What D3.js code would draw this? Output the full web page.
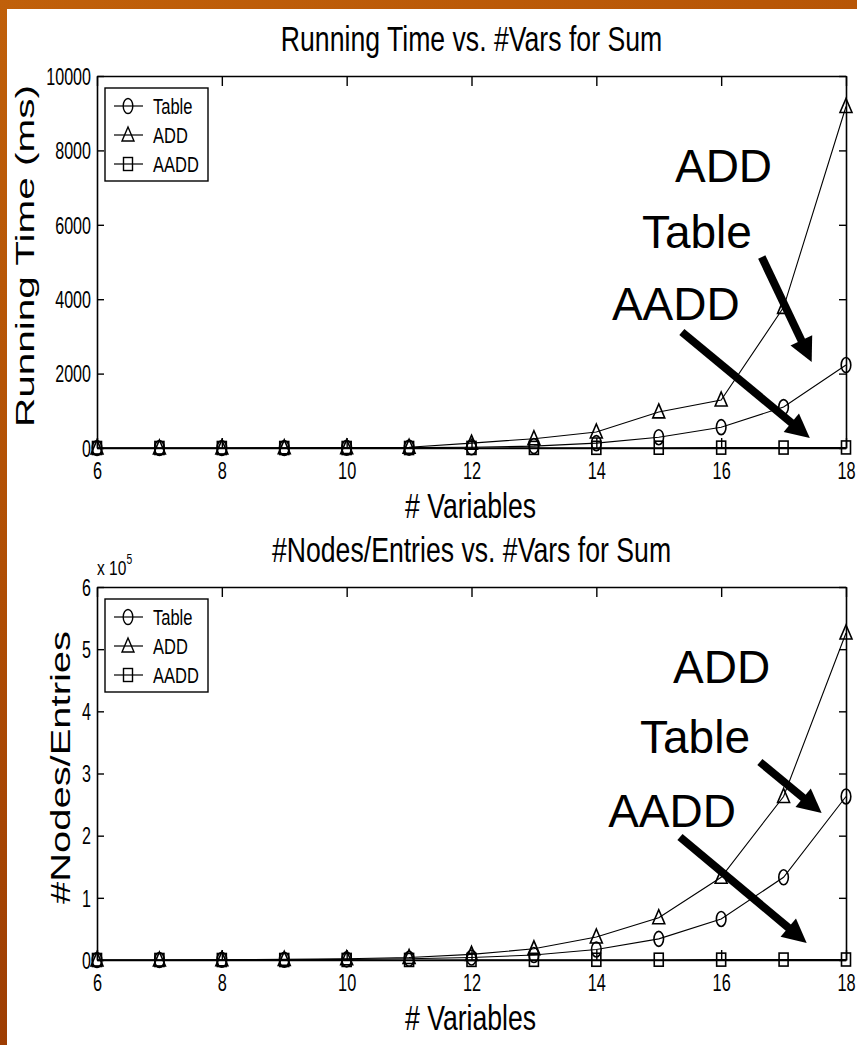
<!DOCTYPE html>
<html>
<head>
<meta charset="utf-8">
<script src="https://cdn.jsdelivr.net/npm/d3@7"></script>
<style>
  body { margin: 0; overflow: hidden; }
  text { font-family: "Liberation Sans", Arial, sans-serif; fill: #000; }
</style>
</head>
<body>
<div id="vizContainer"></div>
<script>
let w = 857;
let h = 1045;

let numVars = [6, 7, 8, 9, 10, 11, 12, 13, 14, 15, 16, 17, 18];
let xTicks = [6, 8, 10, 12, 14, 16, 18];
let seriesNames = ["Table", "ADD", "AADD"];

// running time (ms)
let tableTime = [0, 0, 0, 0, 5, 10, 20, 50, 130, 290, 560, 1100, 2230];
let addTime = [0, 0, 0, 5, 10, 20, 130, 250, 430, 970, 1290, 3780, 9180];
let aaddTime = [0, 0, 0, 0, 0, 0, 2, 3, 5, 8, 10, 12, 15];
let timeTicks = [0, 2000, 4000, 6000, 8000, 10000];

// nodes / entries
let tableNodes = [0, 0, 300, 500, 1000, 2000, 4000, 8000, 17000, 34000, 66000, 133000, 263000];
let addNodes = [0, 0, 500, 1000, 2000, 4000, 9000, 18000, 37000, 68000, 133000, 263000, 526000];
let aaddNodes = [0, 0, 0, 0, 100, 100, 200, 300, 400, 500, 600, 700, 800];
let nodeTicks = [0, 100000, 200000, 300000, 400000, 500000, 600000];

let panels = [
  {
    title: "Running Time vs. #Vars for Sum",
    yLabel: "Running Time (ms)",
    yLabelX: 34, yLabelLen: 342, yLabelSize: 26,
    top: 76, bottom: 448,
    yMax: 10000,
    ticks: timeTicks,
    fmt: d => d,
    series: [tableTime, addTime, aaddTime],
    notes: [
      { text: "ADD", pos: [15.26, 7150] },
      { text: "Table", pos: [14.73, 5376] },
      { text: "AADD", pos: [14.25, 3441] }
    ],
    arrows: [
      { from: [16.65, 5134], to: [17.45, 2312] },
      { from: [15.37, 3118], to: [17.42, 269] }
    ]
  },
  {
    title: "#Nodes/Entries vs. #Vars for Sum",
    yLabel: "#Nodes/Entries",
    yLabelX: 70, yLabelLen: 273, yLabelSize: 27,
    top: 587, bottom: 960,
    yMax: 600000,
    ticks: nodeTicks,
    fmt: d => d / 100000,
    series: [tableNodes, addNodes, aaddNodes],
    notes: [
      { text: "ADD", pos: [15.23, 445600] },
      { text: "Table", pos: [14.70, 333000] },
      { text: "AADD", pos: [14.19, 214000] }
    ],
    arrows: [
      { from: [16.62, 318500], to: [17.61, 236400] },
      { from: [15.34, 197800], to: [17.37, 27300] }
    ]
  }
];

let plotLeft = 97;
let plotRight = 846;

let viz = d3.select("#vizContainer")
  .append("svg")
  .attr("width", w)
  .attr("height", h)
  ;

// orange slide background with white picture on top
let grad = viz.append("defs").append("linearGradient")
  .attr("id", "bg")
  .attr("x1", 0).attr("y1", 0)
  .attr("x2", 0.3).attr("y2", 1)
  ;
grad.append("stop").attr("offset", 0).attr("stop-color", "#c0600a");
grad.append("stop").attr("offset", 0.5).attr("stop-color", "#b04e04");
grad.append("stop").attr("offset", 1).attr("stop-color", "#9a3a02");

viz.append("rect")
  .attr("width", w)
  .attr("height", h)
  .attr("fill", "url(#bg)")
  ;
viz.append("rect")
  .attr("x", 7)
  .attr("y", 9)
  .attr("width", w - 7)
  .attr("height", h - 9)
  .attr("fill", "white")
  ;

let xScale = d3.scaleLinear().domain([6, 18]).range([plotLeft, plotRight]);

function drawMarker(g, type, x, y) {
  if (type == 0) {
    g.append("ellipse")
      .attr("cx", x).attr("cy", y)
      .attr("rx", 4.8).attr("ry", 7.5)
      ;
  } else if (type == 1) {
    g.append("path")
      .attr("d", "M" + x + "," + (y - 8) + "L" + (x + 6) + "," + (y + 6) + "L" + (x - 6) + "," + (y + 6) + "Z")
      ;
  } else {
    g.append("rect")
      .attr("x", x - 4.5).attr("y", y - 6.5)
      .attr("width", 9).attr("height", 13)
      ;
  }
}

function drawArrow(g, x1, y1, x2, y2) {
  let dx = x2 - x1;
  let dy = y2 - y1;
  let len = Math.sqrt(dx * dx + dy * dy);
  let ux = dx / len;
  let uy = dy / len;
  let headL = 24;
  let headW = 12;
  let bx = x2 - ux * headL;
  let by = y2 - uy * headL;
  g.append("line")
    .attr("x1", x1).attr("y1", y1)
    .attr("x2", bx + ux * 2).attr("y2", by + uy * 2)
    .attr("stroke", "#000")
    .attr("stroke-width", 8)
    ;
  g.append("polygon")
    .attr("points", [[x2, y2], [bx - uy * headW, by + ux * headW], [bx + uy * headW, by - ux * headW]].join(" "))
    .attr("fill", "#000")
    ;
}

panels.forEach((p) => {
  let yScale = d3.scaleLinear().domain([0, p.yMax]).range([p.bottom, p.top]);
  let g = viz.append("g").attr("class", "panel");
  let plotMid = (plotLeft + plotRight) / 2;

  // title
  g.append("text")
    .attr("text-anchor", "middle")
    .attr("font-size", 36)
    .attr("transform", "translate(" + plotMid + "," + (p.top - 25) + ") scale(0.74,1)")
    .text(p.title)
    ;

  // x label
  g.append("text")
    .attr("text-anchor", "middle")
    .attr("font-size", 35)
    .attr("transform", "translate(" + (plotMid - 1) + "," + (p.bottom + 70) + ") scale(0.76,1)")
    .text("# Variables")
    ;

  // y label
  g.append("text")
    .attr("text-anchor", "middle")
    .attr("font-size", p.yLabelSize)
    .attr("textLength", p.yLabelLen)
    .attr("lengthAdjust", "spacingAndGlyphs")
    .attr("transform", "translate(" + p.yLabelX + "," + ((p.top + p.bottom) / 2 - 6) + ") rotate(-90)")
    .text(p.yLabel)
    ;

  // axes, ticks pointing inward
  let xAxis = g.append("g")
    .attr("transform", "translate(0," + p.bottom + ")")
    .call(d3.axisBottom(xScale).tickValues(xTicks).tickSize(-10).tickSizeOuter(0).tickPadding(15))
    ;
  let xAxisTop = g.append("g")
    .attr("transform", "translate(0," + p.top + ")")
    .call(d3.axisTop(xScale).tickValues(xTicks).tickSize(-10).tickSizeOuter(0).tickFormat(""))
    ;
  let yAxis = g.append("g")
    .attr("transform", "translate(" + plotLeft + ",0)")
    .call(d3.axisLeft(yScale).tickValues(p.ticks).tickSize(-7).tickSizeOuter(0).tickFormat(p.fmt))
    ;
  let yAxisRight = g.append("g")
    .attr("transform", "translate(" + plotRight + ",0)")
    .call(d3.axisRight(yScale).tickValues(p.ticks).tickSize(-7).tickSizeOuter(0).tickFormat(""))
    ;

  [xAxis, xAxisTop, yAxis, yAxisRight].forEach((a) => {
    a.select(".domain").attr("stroke", "#000").attr("stroke-width", 1.6);
    a.selectAll(".tick line").attr("stroke", "#000").attr("stroke-width", 1.4);
    a.selectAll("text")
      .attr("font-family", "'Liberation Sans', Arial, sans-serif")
      .attr("font-size", 23)
      .attr("fill", "#000")
      ;
  });
  xAxis.selectAll(".tick text").attr("transform", "scale(0.71,1)");
  yAxis.selectAll(".tick text")
    .attr("x", -6 / 0.7)
    .attr("dy", "0.36em")
    .attr("transform", "scale(0.7,1)")
    ;

  if (p.yMax == 600000) {
    let expo = g.append("text")
      .attr("font-size", 21)
      .attr("transform", "translate(" + plotLeft + "," + (p.top - 12) + ") scale(0.74,1)")
      ;
    expo.append("tspan").text("x 10");
    expo.append("tspan").attr("font-size", 14).attr("dy", -11).text("5");
  }

  // series lines + markers
  let line = d3.line()
    .x((d, i) => xScale(numVars[i]))
    .y((d) => yScale(d))
    ;
  let dataGroup = g.append("g")
    .attr("fill", "none")
    .attr("stroke", "#000")
    ;
  p.series.forEach((s, k) => {
    dataGroup.append("path")
      .attr("d", line(s))
      .attr("stroke-width", 1.1)
      ;
    let mg = dataGroup.append("g").attr("stroke-width", 1.6);
    s.forEach((v, i) => {
      drawMarker(mg, k, xScale(numVars[i]), yScale(v));
    });
  });

  // legend
  let lg = g.append("g")
    .attr("transform", "translate(" + (plotLeft + 8) + "," + (p.top + 12) + ")")
    ;
  lg.append("rect")
    .attr("width", 103)
    .attr("height", 93)
    .attr("fill", "white")
    .attr("stroke", "#000")
    .attr("stroke-width", 1.4)
    ;
  seriesNames.forEach((name, k) => {
    let ry = 18 + k * 29;
    lg.append("line")
      .attr("x1", 9).attr("x2", 38)
      .attr("y1", ry).attr("y2", ry)
      .attr("stroke", "#000")
      .attr("stroke-width", 1.2)
      ;
    let mg = lg.append("g").attr("fill", "none").attr("stroke", "#000").attr("stroke-width", 1.4);
    drawMarker(mg, k, 23, ry);
    lg.append("text")
      .attr("font-size", 22)
      .attr("transform", "translate(48," + (ry + 7.5) + ") scale(0.75,1)")
      .text(name)
      ;
  });

  // annotations
  let ng = g.append("g");
  p.notes.forEach((n) => {
    ng.append("text")
      .attr("x", xScale(n.pos[0]))
      .attr("y", yScale(n.pos[1]))
      .attr("font-size", 46)
      .text(n.text)
      ;
  });
  p.arrows.forEach((a) => {
    drawArrow(ng, xScale(a.from[0]), yScale(a.from[1]), xScale(a.to[0]), yScale(a.to[1]));
  });
});
</script>
</body>
</html>
